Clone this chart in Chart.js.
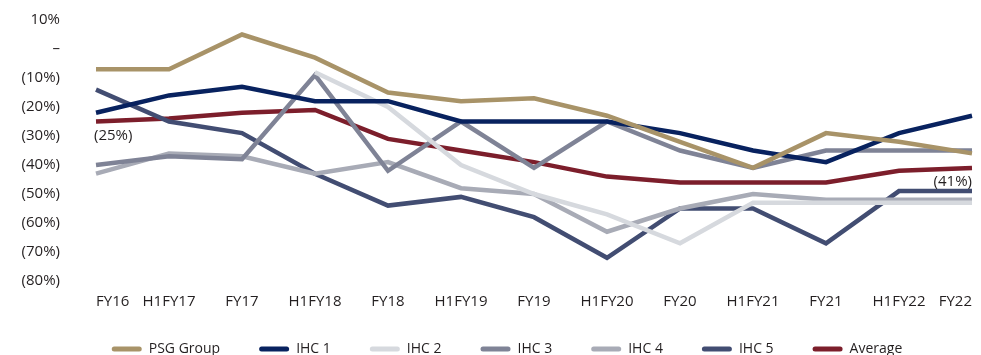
<!DOCTYPE html>
<html>
<head>
<meta charset="utf-8">
<script src="https://cdn.jsdelivr.net/npm/chart.js@4.4.1/dist/chart.umd.min.js"></script>
<style>
  html, body { margin: 0; padding: 0; background: #fff; }
  #wrap { width: 981px; height: 355px; position: relative; }
</style>
</head>
<body>
<div id="wrap"><canvas id="chart"></canvas></div>
<script>
// Period labels along the x axis
const periods = ['FY16', 'H1FY17', 'FY17', 'H1FY18', 'FY18', 'H1FY19', 'FY19',
                 'H1FY20', 'FY20', 'H1FY21', 'FY21', 'H1FY22', 'FY22'];

// Values in percent per period
const psgGroup = [-7, -7, 5, -3, -15, -18, -17, -23, -32, -41, -29, -32, -36];
const ihc1     = [-22, -16, -13, -18, -18, -25, -25, -25, -29, -35, -39, -29, -23];
const ihc2     = [null, null, null, -8, -20, -40, -50, -57, -67, -53, -53, -53, -53];
const ihc3     = [-40, -37, -38, -9, -42, -25, -41, -25, -35, -41, -35, -35, -35];
const ihc4     = [-43, -36, -37, -43, -39, -48, -50, -63, -55, -50, -52, -52, -52];
const ihc5     = [-14, -25, -29, -43, -54, -51, -58, -72, -55, -55, -67, -49, -49];
const average  = [-25, -24, -22, -21, -31, -35, -39, -44, -46, -46, -46, -42, -41];

// Y axis range and step (percent)
const yMin = -80;
const yMax = 10;
const yStep = 10;

// Points of the average line that carry a value label
const labelledAverage = [
  { index: 0, align: 'left' },
  { index: 12, align: 'right' }
];

const FONT = '"Open Sans", "Noto Sans", sans-serif';
const TEXT = '#231f20';

function pct(v) {
  if (v === 0) return '\u2013';
  return v < 0 ? '(' + Math.abs(v) + '%)' : v + '%';
}

function series(label, data, color) {
  return {
    label: label,
    data: data,
    borderColor: color,
    backgroundColor: color,
    borderWidth: 4.5,
    pointRadius: 0,
    pointHoverRadius: 0,
    tension: 0,
    fill: false,
    spanGaps: false
  };
}

// Writes the value under chosen points of the average series
const pointValueLabels = {
  id: 'pointValueLabels',
  afterDatasetsDraw(chart) {
    const dsIndex = chart.data.datasets.findIndex(d => d.label === 'Average');
    const meta = chart.getDatasetMeta(dsIndex);
    const ctx = chart.ctx;
    ctx.save();
    ctx.font = '15px ' + FONT;
    ctx.fillStyle = TEXT;
    ctx.textBaseline = 'middle';
    labelledAverage.forEach(l => {
      const pt = meta.data[l.index];
      const v = chart.data.datasets[dsIndex].data[l.index];
      ctx.textAlign = l.align;
      const x = l.align === 'left' ? pt.x - 2 : pt.x;
      ctx.fillText(pct(v), x, pt.y + 14);
    });
    ctx.restore();
  }
};

// Moves the legend row a little right and up from its default slot
const legendNudge = {
  id: 'legendNudge',
  afterLayout(chart) {
    const lg = chart.legend;
    if (!lg) return;
    lg.left += 16; lg.right += 16;
    lg.top -= 9; lg.bottom -= 9;
  }
};

new Chart(document.getElementById('chart'), {
  type: 'line',
  data: {
    labels: periods,
    datasets: [
      series('PSG Group', psgGroup, '#a89368'),
      series('IHC 1', ihc1, '#08225f'),
      series('IHC 2', ihc2, '#d6d9de'),
      series('IHC 3', ihc3, '#7f8396'),
      series('IHC 4', ihc4, '#a8abb6'),
      series('IHC 5', ihc5, '#424d72'),
      series('Average', average, '#7c1e2b')
    ]
  },
  options: {
    responsive: true,
    maintainAspectRatio: false,
    animation: false,
    events: [],
    layout: { padding: { top: 20, left: 10, right: 9, bottom: -20 } },
    scales: {
      x: {
        offset: false,
        grid: { display: false, drawTicks: false },
        border: { display: false },
        ticks: {
          autoSkip: false,
          maxRotation: 0,
          align: 'inner',
          padding: 12,
          color: TEXT,
          font: { family: FONT, size: 15 }
        },
        afterFit(scale) {
          scale.height = 31;
          scale.paddingLeft = 0;
          scale.paddingRight = 0;
        }
      },
      y: {
        min: yMin,
        max: yMax,
        grid: { display: false, drawTicks: false },
        border: { display: false },
        ticks: {
          stepSize: yStep,
          padding: 36,
          color: TEXT,
          font: { family: FONT, size: 15 },
          callback: v => pct(v)
        },
        afterFit(scale) {
          scale.width = 86;
          scale.paddingTop = 10;
          scale.paddingBottom = 10;
        }
      }
    },
    plugins: {
      tooltip: { enabled: false },
      legend: {
        position: 'bottom',
        labels: {
          boxWidth: 30,
          boxHeight: 5,
          padding: 39,
          useBorderRadius: true,
          borderRadius: 2.5,
          color: TEXT,
          font: { family: FONT, size: 14 },
          generateLabels(chart) {
            const items = Chart.defaults.plugins.legend.labels.generateLabels(chart);
            items.forEach(i => { i.lineWidth = 0; });
            return items;
          }
        }
      }
    }
  },
  plugins: [pointValueLabels, legendNudge]
});
</script>
</body>
</html>
